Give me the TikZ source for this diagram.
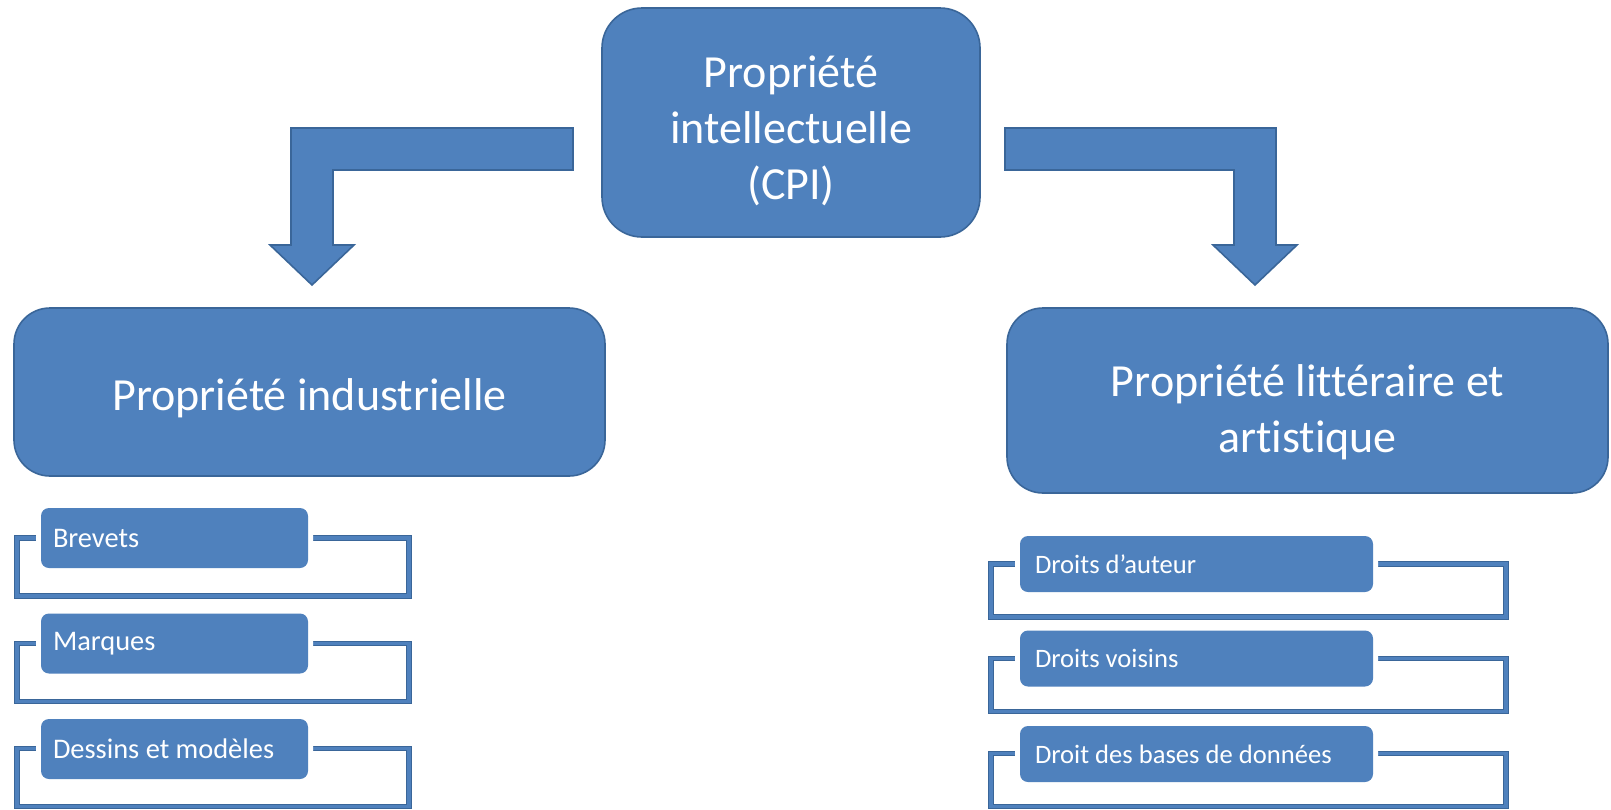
\documentclass[tikz,border=0pt]{standalone}
\usepackage{fontspec}
\setmainfont{Carlito}[Ligatures=NoCommon]
\definecolor{cpiblue}{HTML}{4F81BD}
\definecolor{cpiedge}{HTML}{3A6699}
\tikzset{
  bigbox/.style={draw=cpiedge, fill=cpiblue, line width=0.8pt, text=white,
    align=flush center, inner sep=0pt, font=\fontsize{23}{28}\selectfont},
  blockarrow/.style={draw=cpiedge, fill=cpiblue, line width=0.8pt, line join=miter},
  listframe/.style={draw=cpiedge, double=cpiblue, double distance=1.6pt,
    line width=0.5pt, inner sep=0pt},
  itembox/.style={fill=cpiblue, text=white, rounded corners=4pt, align=flush left,
    inner ysep=0pt, preaction={draw=white, line width=5pt}}
}
\begin{document}
\begin{tikzpicture}[x=0.5pt, y=-0.5pt]
  \useasboundingbox[fill=white] (0,0) rectangle (1611,809);

  % top box and its two block arrows
  \node[bigbox, rounded corners=20pt, minimum width=189pt, minimum height=114.5pt] (cpi) at (791,122.5) {\rule{0pt}{24pt}Propriété\\intellectuelle\\(CPI)};
  \draw[blockarrow] (573,128) -- (291,128) -- (291,245) -- (270,245) -- (312,285) -- (354,245) -- (333,245) -- (333,170) -- (573,170) -- cycle;
  \draw[blockarrow] (1005,128) -- (1276,128) -- (1276,245) -- (1297,245) -- (1255,285) -- (1213,245) -- (1234,245) -- (1234,170) -- (1005,170) -- cycle;

  % the two branches
  \node[bigbox, rounded corners=18pt, minimum width=295.5pt, minimum height=84pt] (indus) at (309.5,392) {\rule{0pt}{22.5pt}Propriété industrielle};
  \node[bigbox, rounded corners=18pt, minimum width=300.5pt, minimum height=92.5pt] (litt) at (1307.5,400.5) {\rule{0pt}{27.5pt}Propriété littéraire et\\artistique};

  % left list
  \node[listframe, minimum width=196pt, minimum height=29pt] (fbrevets) at (213,567) {};
  \node[itembox, minimum height=30pt, text width=121.5pt, inner xsep=6pt, font=\fontsize{14.2}{17}\selectfont] (brevets) at (174.5,538) {Brevets};
  \node[listframe, minimum width=196pt, minimum height=29pt] (fmarques) at (213,672.5) {};
  \node[itembox, minimum height=30pt, text width=121.5pt, inner xsep=6pt, font=\fontsize{14.2}{17}\selectfont] (marques) at (174.5,643.5) {Marques};
  \node[listframe, minimum width=196pt, minimum height=29pt] (fdessins) at (213,777.5) {};
  \node[itembox, minimum height=30pt, text width=121.5pt, inner xsep=6pt, font=\fontsize{14.2}{17}\selectfont] (dessins) at (174.5,749) {Dessins et modèles};

  % right list
  \node[listframe, minimum width=257.5pt, minimum height=26.5pt] (fauteur) at (1248.5,590.5) {};
  \node[itembox, minimum height=28pt, text width=161.5pt, inner xsep=7.5pt, font=\fontsize{13.3}{16}\selectfont] (auteur) at (1196.5,564) {Droits d’auteur};
  \node[listframe, minimum width=257.5pt, minimum height=26.5pt] (fvoisins) at (1248.5,685) {};
  \node[itembox, minimum height=28pt, text width=161.5pt, inner xsep=7.5pt, font=\fontsize{13.3}{16}\selectfont] (voisins) at (1196.5,658.5) {Droits voisins};
  \node[listframe, minimum width=257.5pt, minimum height=26.5pt] (fbases) at (1248.5,780) {};
  \node[itembox, minimum height=28pt, text width=161.5pt, inner xsep=7.5pt, font=\fontsize{13.3}{16}\selectfont] (bases) at (1196.5,754) {Droit des bases de données};
\end{tikzpicture}
\end{document}
